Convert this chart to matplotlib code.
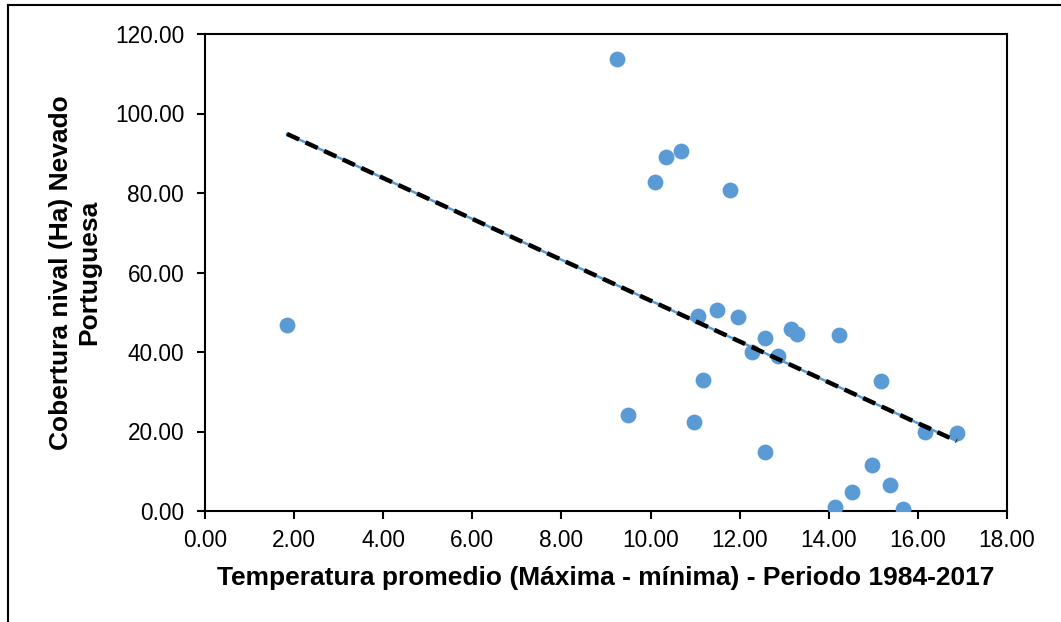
import numpy as np
import matplotlib.pyplot as plt
from matplotlib.lines import Line2D

plt.rcParams['font.family'] = ['Liberation Sans', 'DejaVu Sans']

# datos
temp = [1.84, 9.25, 9.49, 10.10, 10.35, 10.68, 11.78, 10.97, 11.06, 11.18,
        11.49, 11.96, 12.28, 12.57, 12.57, 12.86, 13.15, 13.29, 14.23, 14.13,
        14.51, 14.96, 15.17, 15.38, 15.67, 16.16, 16.87]
cobertura = [46.8, 113.7, 24.2, 82.8, 89.1, 90.6, 80.8, 22.3, 49.1, 33.0,
             50.6, 48.8, 40.0, 43.5, 14.8, 39.0, 45.8, 44.5, 44.3, 1.0,
             4.8, 11.6, 32.7, 6.6, 0.5, 19.8, 19.6]

xticks = [0, 2, 4, 6, 8, 10, 12, 14, 16, 18]
yticks = [0, 20, 40, 60, 80, 100, 120]

fig = plt.figure(figsize=(10.61, 6.22), dpi=100)
ax = fig.add_axes([205/1061, 1-511/622, (1007-205)/1061, (511-34)/622])

ax.scatter(temp, cobertura, s=130, color='#5B9BD5', zorder=3, linewidths=0)

# linea de tendencia (minimos cuadrados)
m, b = np.polyfit(temp, cobertura, 1)
xt = np.array([min(temp), max(temp)])
ax.plot(xt, m*xt + b, color='#5B9BD5', lw=1.8, zorder=4)
ax.plot(xt, m*xt + b, color='black', lw=3.2, dashes=(3, 1.6), zorder=5)

ax.set_xlim(0, 18)
ax.set_ylim(0, 120)
ax.set_xticks(xticks)
ax.set_yticks(yticks)
ax.set_xticklabels(['%.2f' % v for v in xticks], fontsize=16.3)
ax.set_yticklabels(['%.2f' % v for v in yticks], fontsize=16.3)
ax.tick_params(direction='out', length=6, width=1.5)
ax.tick_params(axis='y', pad=9)
ax.tick_params(axis='x', pad=7)
for s in ax.spines.values():
    s.set_linewidth(1.5)

ax.set_xlabel('Temperatura promedio (Máxima - mínima) - Periodo 1984-2017',
              fontsize=19, fontweight='bold', labelpad=10)
ax.set_ylabel('Cobertura nival (Ha) Nevado\nPortuguesa',
              fontsize=19, fontweight='bold', labelpad=10, linespacing=1.2)

# borde de la figura (solo arriba e izquierda)
fig.add_artist(Line2D([8/1061, 8/1061], [0, 1-5/622], transform=fig.transFigure,
                      color='black', lw=1.5))
fig.add_artist(Line2D([8/1061, 1], [1-5/622, 1-5/622], transform=fig.transFigure,
                      color='black', lw=1.5))

fig.savefig('out.png', dpi=100)
